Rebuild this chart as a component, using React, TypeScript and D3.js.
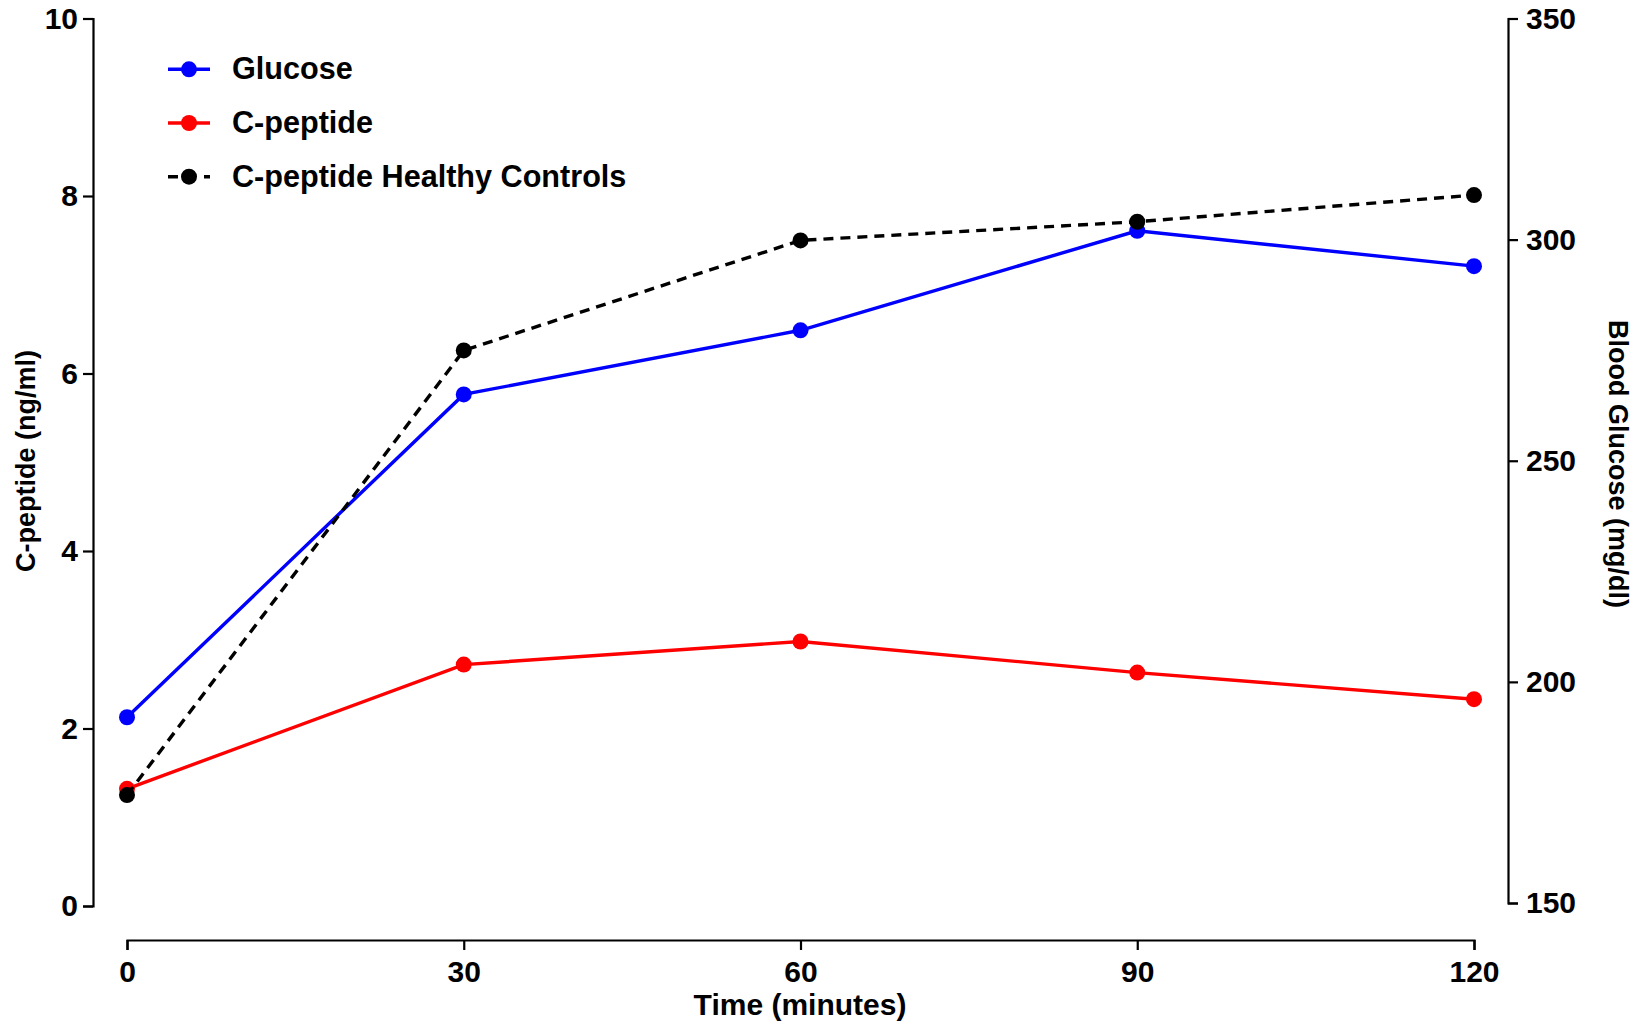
import React, {useEffect, useRef} from "react";
import * as d3 from "d3";

// data
const times = [0, 30, 60, 90, 120];
const glucose = [192, 265, 279.5, 302, 294];        // mg/dl, right axis
const cPeptide = [1.32, 2.72, 2.98, 2.63, 2.33];    // ng/ml, left axis
const cPeptideControls = [1.25, 6.26, 7.5, 7.71, 8.01];

const leftTicks = [0, 2, 4, 6, 8, 10];
const rightTicks = [150, 200, 250, 300, 350];
const seriesNames = ["Glucose", "C-peptide", "C-peptide Healthy Controls"];

const W = 1637;
const H = 1029;
const FONT = "'Liberation Sans', Arial, Helvetica, sans-serif";

const App = () => {
    const ref = useRef<SVGSVGElement>(null);

    useEffect(() => {
        const svg = d3.select(ref.current);
        svg.selectAll("*").remove();

        // scales
        const x = d3.scaleLinear().domain([0, 120]).range([127, 1474]);
        const yLeft = d3.scaleLinear().domain([0, 10]).range([906, 18.5]);
        const yRight = d3.scaleLinear().domain([150, 350]).range([903, 18.5]);

        const styleAxis = (g) => {
            g.selectAll("path, line").attr("stroke", "#000").attr("stroke-width", 2.2);
            g.selectAll("text")
                .attr("font-family", FONT)
                .attr("font-size", 30)
                .attr("font-weight", "bold")
                .attr("fill", "#000");
        };

        // axes
        svg.append("g")
            .attr("transform", "translate(93,0)")
            .call(d3.axisLeft(yLeft).tickValues(leftTicks).tickSize(10).tickPadding(5))
            .call(styleAxis);

        svg.append("g")
            .attr("transform", "translate(1508,0)")
            .call(d3.axisRight(yRight).tickValues(rightTicks).tickSize(10).tickPadding(8))
            .call(styleAxis);

        svg.append("g")
            .attr("transform", "translate(0,940)")
            .call(d3.axisBottom(x).tickValues(times).tickSize(10).tickPadding(11))
            .call(styleAxis);

        // axis titles
        const title = (txt, tx, ty, rot, size) => svg.append("text")
            .attr("transform", `translate(${tx},${ty}) rotate(${rot})`)
            .attr("text-anchor", "middle")
            .attr("font-family", FONT)
            .attr("font-size", size)
            .attr("font-weight", "bold")
            .text(txt);

        title("Time (minutes)", 800, 1015, 0, 30);
        title("C-peptide (ng/ml)", 35, 461, -90, 27);
        title("Blood Glucose (mg/dl)", 1609, 464, 90, 27);

        // series
        const series = [
            {name: seriesNames[0], values: glucose, y: yRight, color: "#0000ff", dash: null},
            {name: seriesNames[1], values: cPeptide, y: yLeft, color: "#ff0000", dash: null},
            {name: seriesNames[2], values: cPeptideControls, y: yLeft, color: "#000", dash: "10,7"},
        ];

        series.forEach(s => {
            const pts = times.map((t, i) => [t, s.values[i]]);
            const line = d3.line().x(d => x(d[0])).y(d => s.y(d[1]));
            svg.append("path")
                .datum(pts)
                .attr("d", line)
                .attr("fill", "none")
                .attr("stroke", s.color)
                .attr("stroke-width", 3.4)
                .attr("stroke-dasharray", s.dash);
            svg.append("g")
                .selectAll("circle")
                .data(pts)
                .join("circle")
                .attr("cx", d => x(d[0]))
                .attr("cy", d => s.y(d[1]))
                .attr("r", 8)
                .attr("fill", s.color);
        });

        // legend
        const legend = svg.append("g");
        series.forEach((s, i) => {
            const cy = 69.3 + i * 53.7;
            legend.append("line")
                .attr("x1", 168).attr("x2", 210)
                .attr("y1", cy).attr("y2", cy)
                .attr("stroke", s.color)
                .attr("stroke-width", 3.4)
                .attr("stroke-dasharray", s.dash ? "10,8" : null);
            legend.append("circle")
                .attr("cx", 189).attr("cy", cy).attr("r", 8)
                .attr("fill", s.color);
            legend.append("text")
                .attr("x", 232)
                .attr("y", cy + 10)
                .attr("font-family", FONT)
                .attr("font-size", 30.6)
                .attr("font-weight", "bold")
                .text(s.name);
        });
    }, []);

    return (
        <svg ref={ref} width={W} height={H}
             style={{position: "absolute", left: 0, top: 0, display: "block", background: "#fff"}}/>
    );
};

export default App;
